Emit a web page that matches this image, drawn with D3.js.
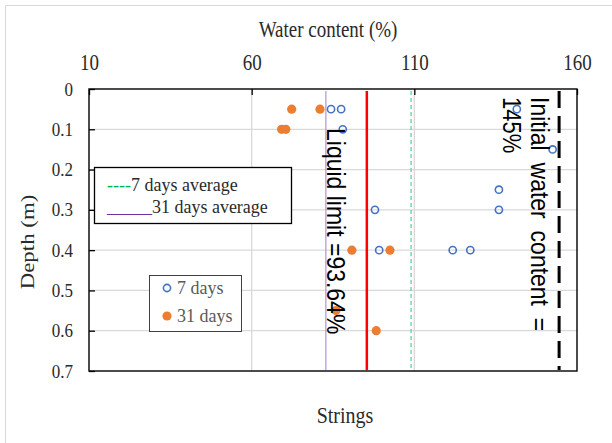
<!DOCTYPE html>
<html>
<head>
<meta charset="utf-8">
<script src="https://cdn.jsdelivr.net/npm/d3@7"></script>
<style>
  body { margin: 0; background: #fff; }
  svg { display: block; font-family: "Liberation Serif", "Times New Roman", serif; }
</style>
</head>
<body>
<div id="chart"></div>
<script>
// values
var xTicks = [10, 60, 110, 160];
var yTicks = [0, 0.1, 0.2, 0.3, 0.4, 0.5, 0.6, 0.7];

// 7 days (open circles)
var depth7 = [0.05, 0.05, 0.05, 0.1, 0.15, 0.25, 0.3, 0.3, 0.4, 0.4, 0.4];
var water7 = [84.4, 87.5, 141.5, 88.0, 152.5, 136.0, 136.0, 97.9, 99.2, 121.8, 127.2];

// 31 days (filled circles)
var depth31 = [0.05, 0.05, 0.1, 0.1, 0.4, 0.4, 0.55, 0.6];
var water31 = [72.3, 81.0, 69.2, 70.5, 90.8, 102.5, 85.9, 98.3];

// vertical reference lines
var refNames = ["7 days average", "31 days average", "Liquid limit", "Initial water content"];
var refValues = [109.0, 82.8, 95.4, 154.5];

var svgWidth = 612;
var svgHeight = 443;
var margin = { top: 89, right: 35, bottom: 72, left: 89 };

var svg = d3.select("#chart")
  .append("svg")
  .attr("width", svgWidth)
  .attr("height", svgHeight);

// light border around the whole figure
svg.append("rect")
  .attr("x", 5.5).attr("y", 5.5)
  .attr("width", 700).attr("height", 500)
  .attr("fill", "none")
  .attr("stroke", "#d9d9d9");

var xScale = d3.scaleLinear()
  .domain([10, 160])
  .range([margin.left, svgWidth - margin.right]);
var yScale = d3.scaleLinear()
  .domain([0, 0.7])
  .range([margin.top, svgHeight - margin.bottom]);

// gridlines
svg.append("g").selectAll("line")
  .data(yTicks.slice(1, -1))
  .enter().append("line")
  .attr("x1", xScale(10)).attr("x2", xScale(160))
  .attr("y1", function(d) { return yScale(d); })
  .attr("y2", function(d) { return yScale(d); })
  .attr("stroke", "#d9d9d9").attr("stroke-width", 1.3);
svg.append("g").selectAll("line")
  .data(xTicks.slice(1, -1))
  .enter().append("line")
  .attr("x1", function(d) { return xScale(d); })
  .attr("x2", function(d) { return xScale(d); })
  .attr("y1", yScale(0)).attr("y2", yScale(0.7))
  .attr("stroke", "#d9d9d9").attr("stroke-width", 1.3);

// reference lines styles, by name
var refStyle = {
  "7 days average": { color: "#5cd69c", width: 1.3, dash: "4,3" },
  "31 days average": { color: "#b59ae0", width: 1.3, dash: null },
  "Liquid limit": { color: "#ff0000", width: 2.5, dash: null },
  "Initial water content": { color: "#000000", width: 3, dash: "17,8" }
};
svg.append("g").selectAll("line")
  .data(refNames)
  .enter().append("line")
  .attr("x1", function(d, i) { return xScale(refValues[i]); })
  .attr("x2", function(d, i) { return xScale(refValues[i]); })
  .attr("y1", yScale(0) + 2).attr("y2", yScale(0.7) - 1)
  .attr("stroke", function(d) { return refStyle[d].color; })
  .attr("stroke-width", function(d) { return refStyle[d].width; })
  .attr("stroke-dasharray", function(d) { return refStyle[d].dash; });

// axes
var xAxis = d3.axisTop(xScale)
  .tickValues(xTicks)
  .tickSizeInner(-6)
  .tickSizeOuter(0)
  .tickFormat(d3.format("d"));
var gx = svg.append("g")
  .attr("transform", "translate(0," + margin.top + ")")
  .call(xAxis);
gx.select(".domain").remove();
gx.selectAll("line").attr("stroke", "#000").attr("stroke-width", 1.3);
gx.selectAll("text")
  .attr("y", null).attr("dy", null)
  .attr("transform", "translate(0,-19) scale(1,1.2)")
  .attr("font-size", 19)
  .attr("font-family", "Liberation Serif, serif")
  .attr("fill", "#2a2a2a");

var yAxis = d3.axisLeft(yScale)
  .tickValues(yTicks)
  .tickSizeInner(-6)
  .tickSizeOuter(0)
  .tickFormat(function(d) { return String(+d.toFixed(1)); });
var gy = svg.append("g")
  .attr("transform", "translate(" + margin.left + ",0)")
  .call(yAxis);
gy.select(".domain").remove();
gy.selectAll("line").attr("stroke", "#000").attr("stroke-width", 1.3);
gy.selectAll("text")
  .attr("x", null).attr("dy", null)
  .attr("transform", "translate(-16,6) scale(1,1.05)")
  .attr("font-size", 17)
  .attr("font-family", "Liberation Serif, serif")
  .attr("fill", "#2a2a2a");

// plot frame
svg.append("rect")
  .attr("x", xScale(10)).attr("y", yScale(0))
  .attr("width", xScale(160) - xScale(10))
  .attr("height", yScale(0.7) - yScale(0))
  .attr("fill", "none")
  .attr("stroke", "#000")
  .attr("stroke-width", 1.4);

// points
svg.append("g").selectAll("circle")
  .data(depth31)
  .enter().append("circle")
  .attr("cx", function(d, i) { return xScale(water31[i]); })
  .attr("cy", function(d) { return yScale(d); })
  .attr("r", 4.6)
  .attr("fill", "#ed7d31");
svg.append("g").selectAll("circle")
  .data(depth7)
  .enter().append("circle")
  .attr("cx", function(d, i) { return xScale(water7[i]); })
  .attr("cy", function(d) { return yScale(d); })
  .attr("r", 3.6)
  .attr("fill", "none")
  .attr("stroke", "#4472c4")
  .attr("stroke-width", 1.6);

// text helper: screen-space stretch then rotation
function addText(x, y, str, size, sx, sy, rot, anchor, family, color) {
  return svg.append("text")
    .attr("transform", "translate(" + x + "," + y + ") scale(" + sx + "," + sy + ") rotate(" + rot + ")")
    .attr("font-size", size)
    .attr("font-family", family || "Liberation Serif, serif")
    .attr("text-anchor", anchor || "start")
    .attr("fill", color || "#2a2a2a")
    .text(str);
}

// axis titles
addText(328, 37, "Water content (%)", 19, 1, 1.2, 0, "middle");
addText(345, 423, "Strings", 20, 1, 1.12, 0, "middle");
addText(34, 242, "Depth (m)", 18, 1, 1.27, -90, "middle");

// legend for the average lines
svg.append("rect")
  .attr("x", 94.5).attr("y", 167.5)
  .attr("width", 197).attr("height", 56)
  .attr("fill", "#fff").attr("stroke", "#000").attr("stroke-width", 1.3);
var l1 = addText(107, 190.5, "", 18, 1, 1.1, 0, "start");
l1.append("tspan").attr("fill", "#00b050").text("----");
l1.append("tspan").text("7 days average");
var l2 = addText(107, 213, "", 18, 1, 1.1, 0, "start");
l2.append("tspan").attr("fill", "#7030a0").text("_____");
l2.append("tspan").text("31 days average");

// legend for the points
svg.append("rect")
  .attr("x", 149.5).attr("y", 275.5)
  .attr("width", 92).attr("height", 56)
  .attr("fill", "#fff").attr("stroke", "#404040").attr("stroke-width", 1);
svg.append("circle")
  .attr("cx", 167).attr("cy", 288).attr("r", 3.6)
  .attr("fill", "none").attr("stroke", "#4472c4").attr("stroke-width", 1.6);
svg.append("circle")
  .attr("cx", 167).attr("cy", 316).attr("r", 4.6)
  .attr("fill", "#ed7d31");
addText(177, 294, "7 days", 18, 1, 1.1, 0, "start", null, "#595959");
addText(177, 322, "31 days", 18, 1, 1.1, 0, "start", null, "#595959");

// annotations on the lines
var sans = "Liberation Sans, Arial, sans-serif";
addText(327, 128, "Liquid limit =93.64%", 23, 1.15, 1, 90, "start", sans, "#000");
addText(531, 97, "Initial water content =", 23, 1.1, 1, 90, "start", sans, "#000")
  .attr("word-spacing", 5.5);
addText(503, 97, "145%", 22, 1.15, 1, 90, "start", sans, "#000");
</script>
</body>
</html>
